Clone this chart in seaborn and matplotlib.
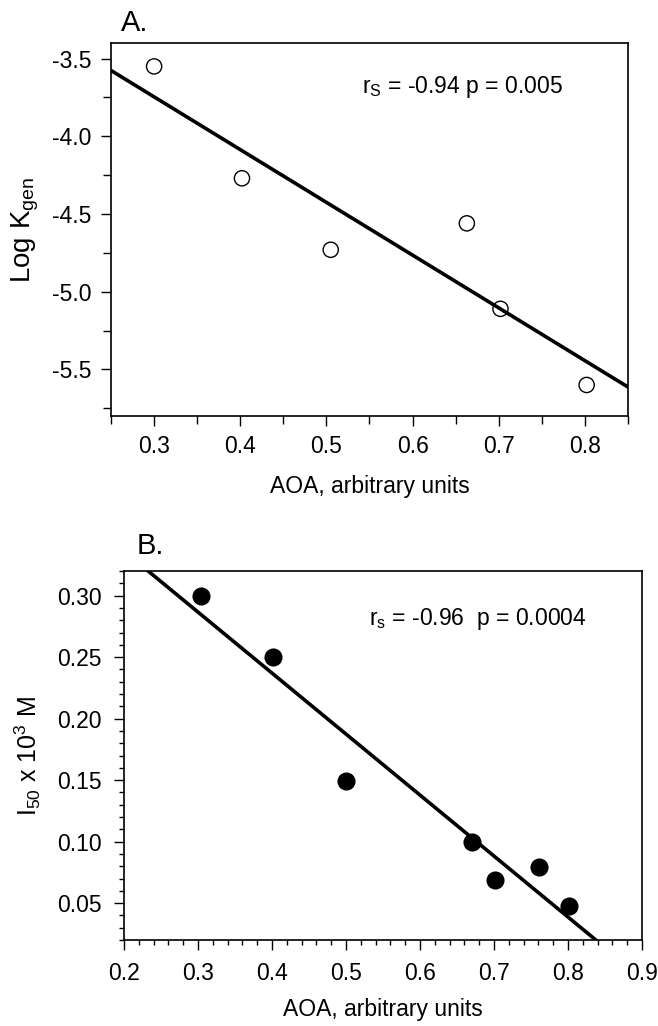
import matplotlib
matplotlib.use('Agg')
import matplotlib.pyplot as plt
from matplotlib.ticker import MultipleLocator
import numpy as np
import pandas as pd
import seaborn as sns

# dados
aoa_a = [0.300, 0.402, 0.505, 0.663, 0.702, 0.802]
logk_a = [-3.55, -4.27, -4.73, -4.56, -5.11, -5.60]

aoa_b = [0.304, 0.401, 0.500, 0.670, 0.702, 0.761, 0.802]
i50_b = [0.300, 0.250, 0.149, 0.100, 0.069, 0.079, 0.048]

txt_a = r'r$_{\mathrm{S}}$ = -0.94 p = 0.005'
txt_b = r'r$_{\mathrm{s}}$ = -0.96  p = 0.0004'

df_a = pd.DataFrame({'aoa': aoa_a, 'logk': logk_a})
df_b = pd.DataFrame({'aoa': aoa_b, 'i50': i50_b})

sns.set_style('ticks')
plt.rcParams['font.family'] = ['Liberation Sans', 'DejaVu Sans']
plt.rcParams['mathtext.fontset'] = 'custom'
plt.rcParams['mathtext.rm'] = 'Liberation Sans'
plt.rcParams['mathtext.it'] = 'Liberation Sans:italic'
plt.rcParams['axes.edgecolor'] = 'black'
plt.rcParams['axes.labelcolor'] = 'black'
plt.rcParams['text.color'] = 'black'
plt.rcParams['axes.linewidth'] = 1.2
plt.rcParams['xtick.color'] = 'black'
plt.rcParams['ytick.color'] = 'black'

fig = plt.figure(figsize=(6.58, 10.26), dpi=100)
ax_a = fig.add_axes([0.1687, 0.5945, 0.7857, 0.3635])
ax_b = fig.add_axes([0.1884, 0.0838, 0.7872, 0.3596])

# ---- painel A ----
ax_a.set_xlim(0.25, 0.85)
ax_a.set_ylim(-5.8, -3.4)
sns.scatterplot(data=df_a, x='aoa', y='logk', ax=ax_a, marker='o', s=120,
                facecolors='none', edgecolor='black', linewidth=1.0, zorder=3)
# linha de regressao ate as bordas do eixo
sns.regplot(data=df_a, x='aoa', y='logk', ax=ax_a, scatter=False, ci=None,
            truncate=False, color='black', line_kws={'linewidth': 2.6})
ax_a.set_xlim(0.25, 0.85)
ax_a.set_ylim(-5.8, -3.4)
ax_a.set_xticks([0.3, 0.4, 0.5, 0.6, 0.7, 0.8])
ax_a.set_xticklabels(['0.3', '0.4', '0.5', '0.6', '0.7', '0.8'])
ax_a.set_yticks([-3.5, -4.0, -4.5, -5.0, -5.5])
ax_a.set_yticklabels(['-3.5', '-4.0', '-4.5', '-5.0', '-5.5'])
ax_a.xaxis.set_minor_locator(MultipleLocator(0.05))
ax_a.yaxis.set_minor_locator(MultipleLocator(0.25))
ax_a.tick_params(which='major', length=7, width=1.0, labelsize=16.5, pad=7)
ax_a.tick_params(which='minor', length=6, width=1.0)
ax_a.set_xlabel('AOA, arbitrary units', fontsize=16.5, labelpad=12)
ax_a.set_ylabel(r'Log K$_{\mathrm{gen}}$', fontsize=20, labelpad=8)
ax_a.text(0.5415, -3.68, txt_a, fontsize=16.5, va='center', ha='left')
fig.text(121 / 658, 1 - 23 / 1026, 'A.', fontsize=21, va='center', ha='left')

# ---- painel B ----
ax_b.set_xlim(0.2, 0.9)
ax_b.set_ylim(0.02, 0.32)
sns.scatterplot(data=df_b, x='aoa', y='i50', ax=ax_b, marker='o', s=170,
                color='black', edgecolor='black', linewidth=0, zorder=3)
sns.regplot(data=df_b, x='aoa', y='i50', ax=ax_b, scatter=False, ci=None,
            truncate=False, color='black', line_kws={'linewidth': 2.6})
ax_b.set_xlim(0.2, 0.9)
ax_b.set_ylim(0.02, 0.32)
ax_b.set_xticks([0.2, 0.3, 0.4, 0.5, 0.6, 0.7, 0.8, 0.9])
ax_b.set_xticklabels(['0.2', '0.3', '0.4', '0.5', '0.6', '0.7', '0.8', '0.9'])
ax_b.set_yticks([0.05, 0.10, 0.15, 0.20, 0.25, 0.30])
ax_b.set_yticklabels(['0.05', '0.10', '0.15', '0.20', '0.25', '0.30'])
ax_b.xaxis.set_minor_locator(MultipleLocator(0.02))
ax_b.yaxis.set_minor_locator(MultipleLocator(0.01))
ax_b.tick_params(which='major', length=7, width=1.0, labelsize=16.5, pad=9)
ax_b.tick_params(which='minor', length=3.5, width=1.0)
ax_b.set_xlabel('AOA, arbitrary units', fontsize=16.5, labelpad=9)
ax_b.set_ylabel(r'I$_{50}$ x 10$^{3}$ M', fontsize=18, labelpad=10)
ax_b.text(0.531, 0.2807, txt_b, fontsize=16.5, va='center', ha='left')
fig.text(137 / 658, 1 - 546 / 1026, 'B.', fontsize=21, va='center', ha='left')

for ax in (ax_a, ax_b):
    for side in ('top', 'right', 'left', 'bottom'):
        ax.spines[side].set_visible(True)
        ax.spines[side].set_color('black')

fig.savefig('out.png', dpi=100)
